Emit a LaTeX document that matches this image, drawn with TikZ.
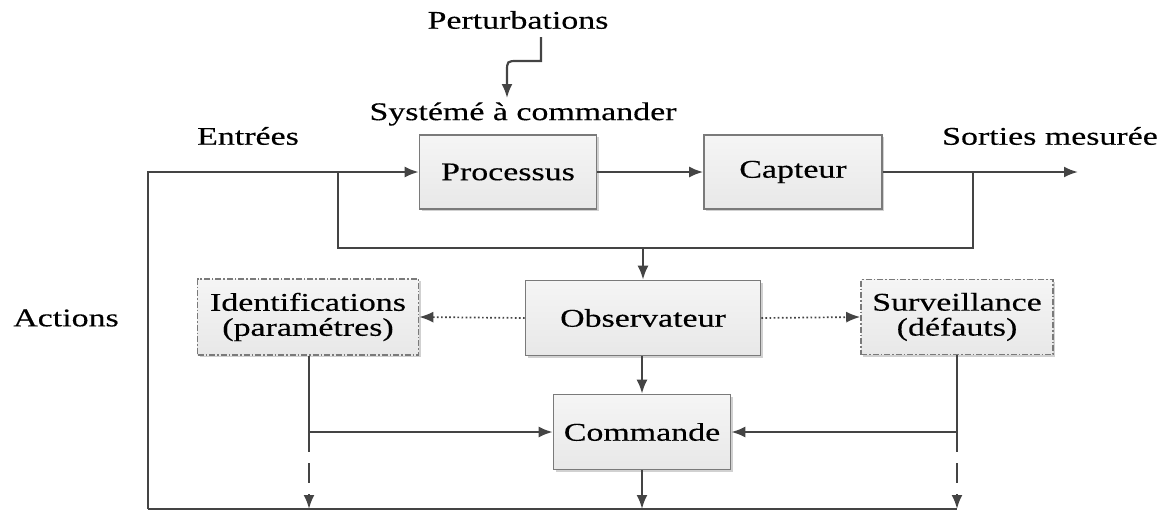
\documentclass[tikz,border=0pt]{standalone}
\usepackage{fontspec}
\setmainfont[FakeStretch=1.33,FakeBold=0.3]{Liberation Serif}
\usetikzlibrary{arrows.meta,shadows}
\definecolor{linec}{HTML}{444444}
\definecolor{boxline}{HTML}{7A7A7A}
\tikzset{
  conn/.style={draw=linec, line width=2.2pt, -{Latex[length=14pt,width=11pt]}},
  plain/.style={draw=linec, line width=2.2pt},
  blk/.style={draw=boxline, line width=1.6pt, top color=black!4, bottom color=black!9,
     drop shadow={shadow xshift=2pt, shadow yshift=-2pt, fill=black!30, opacity=0.6},
     inner sep=2pt, align=center, font=\fontsize{25.5}{29}\selectfont},
  dblk/.style={blk, dash pattern=on 6pt off 2pt on 1.5pt off 2pt},
  lbl/.style={font=\fontsize{25.5}{29}\selectfont, inner sep=0pt},
  dotarrow/.style={draw=linec, line width=1.7pt, dash pattern=on 1.7pt off 2.4pt, -{Latex[length=14pt,width=11pt]}},
  dasharrow/.style={draw=linec, line width=2.2pt, dash pattern=on 20pt off 11pt, -{Latex[length=14pt,width=11pt]}}
}
\begin{document}
\begin{tikzpicture}[x=1pt,y=-1pt]
\useasboundingbox (0,0) rectangle (1168,512);
% texts
\node[lbl] (pert) at (518,20) {Perturbations};
\node[lbl] (sys) at (523,114) {Systémé à commander};
\node[lbl] (entr) at (248,136) {Entrées};
\node[lbl] (sort) at (1050,136) {Sorties mesurée};
\node[lbl] (act) at (66,318) {Actions};
% blocks
\node[blk, minimum width=177pt, minimum height=74pt] (proc) at (508,172) {Processus};
\node[blk, minimum width=178pt, minimum height=74pt] (capt) at (793,172) {Capteur};
\node[blk, minimum width=235pt, minimum height=75pt] (obs) at (643,318) {Observateur};
\node[dblk, minimum width=221pt, minimum height=76pt] (ident) at (308,317) {Identifications\\[-4pt](paramétres)};
\node[dblk, minimum width=192pt, minimum height=75pt] (surv) at (957,317) {Surveillance\\[-4pt](défauts)};
\node[blk, minimum width=177pt, minimum height=75pt] (cmd) at (642,432) {Commande};
% coordinates
\coordinate (pt) at (541,37);
\coordinate (pc) at (541,61);
\coordinate (pe) at (507,98);
\coordinate (lt) at (148,172);
\coordinate (lb) at (148,509);
\coordinate (jin) at (338,172);
\coordinate (jinb) at (338,248);
\coordinate (jout) at (973,172);
\coordinate (joutb) at (973,248);
\coordinate (obst) at (643,248);
\coordinate (outend) at (1078,172);
\coordinate (ij) at (309,432);
\coordinate (ib) at (309,509);
\coordinate (sj) at (957,432);
\coordinate (sb) at (957,509);
\coordinate (cb) at (642,509);
% perturbation arrow
\draw[conn] (pt) -- (pc) -- (518,61) .. controls (507,61) .. (507,72) -- (pe);
% main loop
\draw[conn] (lb) -- (lt) -- (proc.west);
\draw[conn] (proc.east) -- (capt.west);
\draw[conn] (capt.east) -- (outend);
\draw[plain] (jin) -- (jinb) -- (joutb) -- (jout);
\draw[conn] (obst) -- (obs.north);
\draw[dotarrow] (obs.west) -- (ident.east);
\draw[dotarrow] (obs.east) -- (surv.west);
\draw[conn] (obs.south -| cmd.north) -- (cmd.north);
\draw[plain] (ident.south -| ij) -- (ij);
\draw[conn] (ij) -- (cmd.west);
\draw[dasharrow] (ij) -- (ib);
\draw[plain] (surv.south) -- (sj);
\draw[conn] (sj) -- (cmd.east);
\draw[dasharrow] (sj) -- (sb);
\draw[conn] (cmd.south) -- (cb);
\draw[plain] (lb) -- (sb);
\end{tikzpicture}
\end{document}
